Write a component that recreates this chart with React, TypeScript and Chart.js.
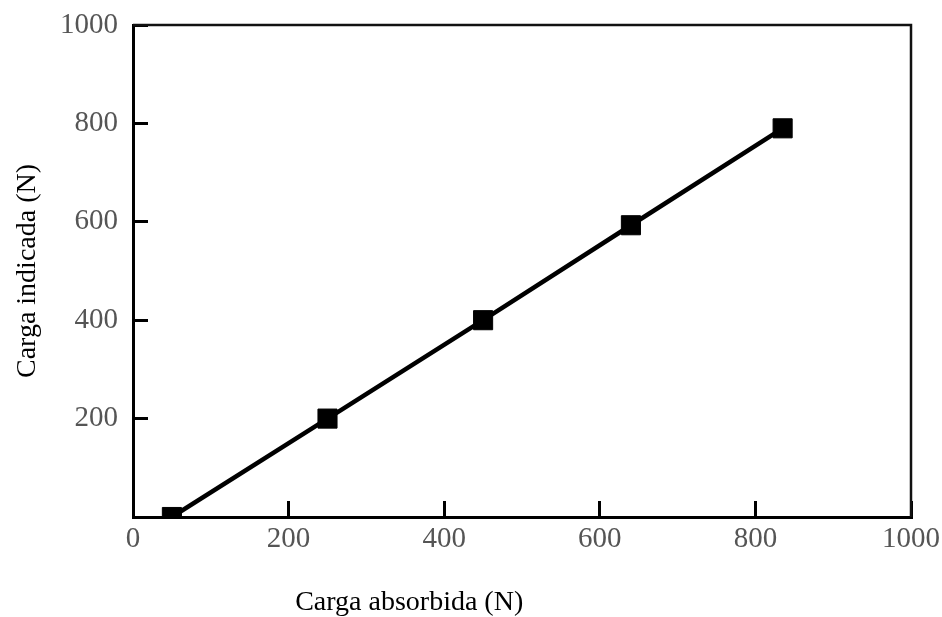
import React, { useEffect, useRef } from "react";
import { Chart, registerables } from "chart.js";

Chart.register(...registerables);

// Calibration readings: absorbed load vs. indicated load (N)
const cargaAbsorbida = [50, 250, 450, 640, 835];
const cargaIndicada = [0, 200, 400, 593, 790];

const xTicks = [0, 200, 400, 600, 800, 1000];
const yTicks = [200, 400, 600, 800, 1000];

const xTitle = "Carga absorbida (N)";
const yTitle = "Carga indicada (N)";

const SERIF = '"Liberation Serif", "DejaVu Serif", serif';

// Draws the closed frame (top and right edges) around the plot area,
// and the x-axis caption, which sits left of the plot's centre
const framePlugin = {
  id: "frame",
  afterDraw(chart: any) {
    const { ctx, chartArea } = chart;
    ctx.save();
    ctx.strokeStyle = "#111";
    ctx.lineWidth = 2.5;
    ctx.beginPath();
    ctx.moveTo(chartArea.left, chartArea.top);
    ctx.lineTo(chartArea.right, chartArea.top);
    ctx.lineTo(chartArea.right, chartArea.bottom);
    ctx.stroke();

    ctx.fillStyle = "#000";
    ctx.font = `28px ${SERIF}`;
    ctx.textAlign = "center";
    ctx.textBaseline = "middle";
    const cx = chartArea.left + (chartArea.right - chartArea.left) * 0.355;
    ctx.fillText(xTitle, cx, chart.height - 14);
    ctx.restore();
  },
};

// Keep overflowing tick labels from shrinking the plot area
const noLabelPadding = (scale: any) => {
  scale.paddingLeft = 0;
  scale.paddingRight = 0;
  scale.paddingTop = 0;
  scale.paddingBottom = 0;
};

export default function App() {
  const ref = useRef<HTMLCanvasElement | null>(null);

  useEffect(() => {
    if (!ref.current) return;
    const points = cargaAbsorbida.map((x, i) => ({ x, y: cargaIndicada[i] }));
    const chart = new Chart(ref.current, {
      type: "scatter",
      data: {
        datasets: [
          {
            data: points,
            showLine: true,
            borderColor: "#000",
            backgroundColor: "#000",
            borderWidth: 4.5,
            pointStyle: "rect",
            pointRadius: 13.5,
            pointBorderWidth: 1,
            pointBackgroundColor: "#000",
            pointBorderColor: "#000",
          },
        ],
      },
      options: {
        responsive: false,
        animation: false,
        layout: { padding: { left: 0, top: 25, right: 31, bottom: 0 } },
        plugins: {
          legend: { display: false },
          tooltip: { enabled: false },
        },
        scales: {
          x: {
            type: "linear",
            min: 0,
            max: 1000,
            afterBuildTicks: (scale: any) => {
              scale.ticks = xTicks.map((v) => ({ value: v }));
            },
            afterFit: (scale: any) => {
              scale.height = 100;
              noLabelPadding(scale);
            },
            border: { display: true, color: "#000", width: 3 },
            grid: {
              display: true,
              drawOnChartArea: false,
              drawTicks: true,
              tickLength: -16,
              tickWidth: 3,
              tickColor: "#000",
            },
            ticks: {
              padding: 21,
              color: "#555",
              font: { family: SERIF, size: 29 },
              maxRotation: 0,
              callback: (v: any) => String(v),
            },
            title: { display: false },
          },
          y: {
            type: "linear",
            min: 0,
            max: 1000,
            afterBuildTicks: (scale: any) => {
              scale.ticks = yTicks.map((v) => ({ value: v }));
            },
            afterFit: (scale: any) => {
              scale.width = 133;
              noLabelPadding(scale);
            },
            border: { display: true, color: "#000", width: 3 },
            grid: {
              display: true,
              drawOnChartArea: false,
              drawTicks: true,
              tickLength: -15,
              tickWidth: 3,
              tickColor: "#000",
            },
            ticks: {
              padding: 30,
              color: "#555",
              font: { family: SERIF, size: 29 },
              callback: (v: any) => String(v),
            },
            title: {
              display: true,
              text: yTitle,
              color: "#000",
              font: { family: SERIF, size: 28, lineHeight: 1 },
              padding: { top: 14, bottom: 0 },
            },
          },
        },
      },
      plugins: [framePlugin],
    });
    return () => chart.destroy();
  }, []);

  return (
    <canvas
      ref={ref}
      width={942}
      height={617}
      style={{ position: "absolute", left: 0, top: 0, width: 942, height: 617 }}
    />
  );
}
